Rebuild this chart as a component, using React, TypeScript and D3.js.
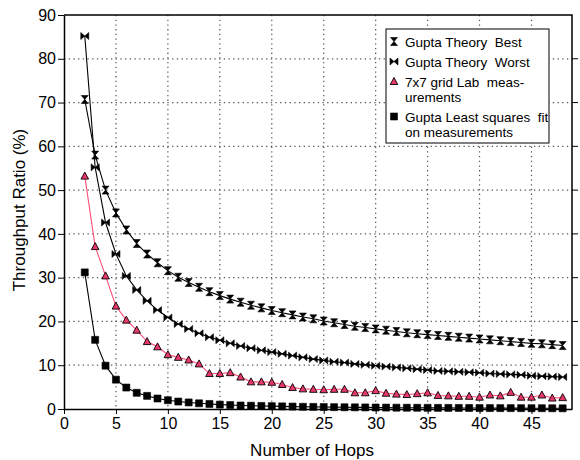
import React, { useRef, useEffect } from 'react';
import * as d3 from 'd3';

const hops = d3.range(2, 49);

const theoryBest = [70.7, 58.0, 50.0, 44.8, 40.9, 37.8, 35.4, 33.4, 31.6, 30.1, 28.9, 27.8, 26.8, 25.9, 25.1, 24.4,
    23.7, 23.1, 22.5, 22.0, 21.5, 21.0, 20.6, 20.1, 19.7, 19.3, 18.9, 18.6, 18.3, 18.0, 17.7, 17.4, 17.2, 17.0,
    16.8, 16.6, 16.4, 16.2, 16.0, 15.8, 15.6, 15.4, 15.2, 15.0, 14.9, 14.7, 14.5];

const theoryWorst = [85.2, 55.2, 42.6, 35.4, 30.4, 27.2, 24.7, 22.6, 20.9, 19.4, 18.3, 17.3, 16.4, 15.7, 15.0, 14.4,
    13.9, 13.4, 13.0, 12.6, 12.2, 11.8, 11.4, 11.1, 10.8, 10.6, 10.3, 10.1, 9.9, 9.7, 9.5, 9.3, 9.1, 8.9,
    8.7, 8.6, 8.5, 8.4, 8.3, 8.1, 8.0, 7.9, 7.8, 7.6, 7.5, 7.4, 7.3];

const labMeasured = [53.2, 37.1, 30.4, 23.5, 20.3, 18.0, 15.4, 14.2, 12.4, 11.8, 11.2, 10.3, 8.1, 8.1, 8.3, 7.3,
    6.2, 6.2, 6.1, 5.6, 4.9, 4.6, 4.5, 4.4, 4.5, 4.5, 3.7, 3.7, 4.2, 3.6, 3.4, 3.3, 3.5, 3.7,
    3.1, 3.0, 2.9, 2.9, 2.7, 3.2, 3.0, 3.8, 2.7, 2.7, 3.2, 2.5, 2.6];

const leastSquaresFit = [31.2, 15.8, 9.9, 6.7, 4.9, 3.7, 3.0, 2.4, 2.0, 1.7, 1.5, 1.3, 1.15, 1.0, 0.9, 0.8,
    0.75, 0.7, 0.65, 0.6, 0.55, 0.5, 0.48, 0.45, 0.42, 0.4, 0.38, 0.36, 0.34, 0.32, 0.3, 0.29, 0.28, 0.27,
    0.26, 0.25, 0.24, 0.23, 0.22, 0.21, 0.2, 0.2, 0.19, 0.18, 0.18, 0.17, 0.16];

const xTicks = [0, 5, 10, 15, 20, 25, 30, 35, 40, 45];
const yTicks = [0, 10, 20, 30, 40, 50, 60, 70, 80, 90];

const legendLines = [
    ['Gupta Theory  Best'],
    ['Gupta Theory  Worst'],
    ['7x7 grid Lab  meas-', 'urements'],
    ['Gupta Least squares  fit', 'on measurements']
];

const PINK = '#ff4f7b';
const PINK_FILL = '#e8386a';

// marker paths centered at 0,0
const markerPath = (kind: string) => {
    if (kind === 'best') return 'M-3.5,-4H3.5L-3.5,4H3.5Z';
    if (kind === 'worst') return 'M-4,-3.5V3.5L4,-3.5V3.5Z';
    if (kind === 'tri') return 'M0,-4L3.8,3H-3.8Z';
    return 'M-3.5,-3.5H3.5V3.5H-3.5Z';
};

const App = () => {
    const ref = useRef(null);

    useEffect(() => {
        const svg = d3.select(ref.current);
        svg.selectAll('*').remove();

        const left = 64, right = 572, top = 15, bottom = 409;
        const font = 'Liberation Sans, Arial, sans-serif';

        const x = d3.scaleLinear().domain([0, 48.9]).range([left, right]);
        const y = d3.scaleLinear().domain([0, 90]).range([bottom, top]);

        svg.append('rect')
            .attr('width', 580).attr('height', 460).attr('fill', '#fff');

        // grid lines
        const grid = svg.append('g')
            .attr('stroke', '#555')
            .attr('stroke-width', 1.2)
            .attr('stroke-dasharray', '1.3,3.4');
        grid.selectAll('.gx').data(xTicks.filter(d => d > 0)).enter().append('line')
            .attr('x1', d => x(d)).attr('x2', d => x(d))
            .attr('y1', top).attr('y2', bottom);
        grid.selectAll('.gy').data(yTicks.filter(d => d > 0 && d < 90)).enter().append('line')
            .attr('y1', d => y(d)).attr('y2', d => y(d))
            .attr('x1', left).attr('x2', right);

        // axes
        const xAxis = svg.append('g')
            .attr('transform', 'translate(0,' + bottom + ')')
            .call(d3.axisBottom(x).tickValues(xTicks).tickSize(5).tickSizeOuter(0).tickPadding(4));
        const yAxis = svg.append('g')
            .attr('transform', 'translate(' + left + ',0)')
            .call(d3.axisLeft(y).tickValues(yTicks).tickSize(6).tickSizeOuter(0).tickPadding(2));
        [xAxis, yAxis].forEach(a => {
            a.selectAll('text').attr('font-family', font).attr('font-size', 16).attr('fill', '#000');
            a.select('.domain').attr('stroke-width', 1.5);
        });

        // right side ticks
        svg.append('g').selectAll('line').data(yTicks.filter(d => d > 0 && d < 90)).enter().append('line')
            .attr('x1', right).attr('x2', right + 6)
            .attr('y1', d => y(d)).attr('y2', d => y(d))
            .attr('stroke', '#000');

        // frame top and right
        svg.append('path')
            .attr('d', 'M' + left + ',' + top + 'H' + right + 'V' + bottom)
            .attr('fill', 'none').attr('stroke', '#000').attr('stroke-width', 1.5);

        const series = [
            { values: theoryBest, marker: 'best', line: '#000', fill: '#000' },
            { values: theoryWorst, marker: 'worst', line: '#000', fill: '#000' },
            { values: labMeasured, marker: 'tri', line: PINK, fill: PINK_FILL },
            { values: leastSquaresFit, marker: 'square', line: '#000', fill: '#000' }
        ];

        const line = d3.line<number>()
            .x((_, i) => x(hops[i]))
            .y(d => y(d));

        series.forEach(s => {
            svg.append('path')
                .attr('d', line(s.values))
                .attr('fill', 'none')
                .attr('stroke', s.line)
                .attr('stroke-width', 1.1);
            svg.append('g').selectAll('path').data(s.values).enter().append('path')
                .attr('transform', (d, i) => 'translate(' + x(hops[i]) + ',' + y(d) + ')')
                .attr('d', markerPath(s.marker))
                .attr('fill', s.fill)
                .attr('stroke', '#000')
                .attr('stroke-width', s.marker === 'tri' ? 0.9 : 0.6)
                .attr('stroke-linejoin', 'miter');
        });

        // legend
        const legend = svg.append('g').attr('transform', 'translate(386,29)');
        legend.append('rect')
            .attr('width', 163).attr('height', 114)
            .attr('fill', '#fff').attr('stroke', '#000').attr('stroke-width', 1);
        let ly = 13;
        legendLines.forEach((lines, i) => {
            legend.append('path')
                .attr('transform', 'translate(8,' + (ly - 0.5) + ')')
                .attr('d', markerPath(series[i].marker))
                .attr('fill', series[i].fill)
                .attr('stroke', '#000')
                .attr('stroke-width', series[i].marker === 'tri' ? 0.9 : 0.6);
            lines.forEach((t, j) => {
                legend.append('text')
                    .attr('x', 19).attr('y', ly + j * 15 + 5)
                    .attr('font-family', font).attr('font-size', 13.5)
                    .style('white-space', 'pre')
                    .text(t);
            });
            ly += 20 + (lines.length - 1) * 15;
        });

        // axis labels
        svg.append('text')
            .attr('x', (left + right) / 2 - 6).attr('y', 456)
            .attr('text-anchor', 'middle')
            .attr('font-family', font).attr('font-size', 17)
            .text('Number of Hops');
        svg.append('text')
            .attr('transform', 'translate(25,' + ((top + bottom) / 2 - 2) + ') rotate(-90)')
            .attr('text-anchor', 'middle')
            .attr('font-family', font).attr('font-size', 17)
            .text('Throughput Ratio (%)');
    }, []);

    return (
        <svg ref={ref} width={580} height={460} style={{ display: 'block', position: 'absolute', left: 0, top: 0 }}></svg>
    );
};

export default App;
